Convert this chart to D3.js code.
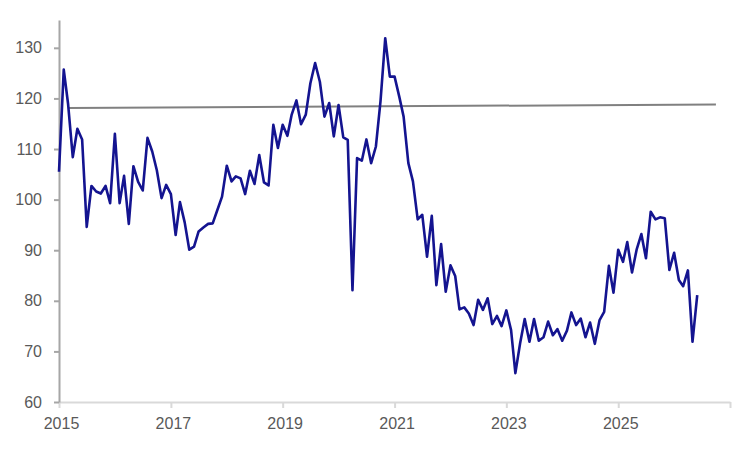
<!DOCTYPE html>
<html>
<head>
<meta charset="utf-8">
<script src="https://cdn.jsdelivr.net/npm/d3@7"></script>
<style>
  html, body { margin: 0; padding: 0; background: #ffffff; }
  svg { display: block; }
</style>
</head>
<body>
<svg id="chart" width="750" height="450"></svg>
<script>
// ---- data ----
const startMonth = "2015-01";
const values = [
  105.5, 125.7, 119.0, 108.4, 114.0, 111.9, 94.6, 102.7, 101.6, 101.2, 102.7, 99.3,
  113.0, 99.3, 104.7, 95.2, 106.6, 103.5, 101.8, 112.2, 109.5, 105.8, 100.3, 102.9,
  101.1, 93.0, 99.5, 95.5, 90.1, 90.7, 93.7, 94.5, 95.2, 95.3, 98.0, 100.6,
  106.7, 103.6, 104.6, 104.2, 101.1, 105.7, 103.1, 108.8, 103.4, 102.8, 114.8, 110.2,
  114.8, 112.6, 116.8, 119.6, 114.9, 116.8, 123.0, 127.0, 123.3, 116.4, 119.1, 112.5,
  118.7, 112.3, 111.8, 82.1, 108.2, 107.7, 111.9, 107.2, 110.5, 119.4, 131.9, 124.3,
  124.3, 120.3, 116.4, 107.2, 103.6, 96.1, 97.0, 88.7, 96.8, 83.1, 91.2, 81.8,
  87.0, 84.9, 78.3, 78.7, 77.5, 75.2, 80.2, 78.2, 80.5, 75.4, 77.0, 75.0,
  78.1, 74.2, 65.7, 71.6, 76.4, 71.9, 76.4, 72.1, 72.8, 75.9, 73.2, 74.4,
  72.1, 74.1, 77.7, 75.2, 76.5, 72.8, 75.7, 71.5, 76.2, 77.8, 86.9, 81.6,
  90.1, 87.7, 91.6, 85.6, 90.1, 93.2, 88.4, 97.6, 96.1, 96.5, 96.3, 86.1,
  89.5, 84.1, 82.9, 86.0, 71.9, 81.1
];
const trendDates = ["2015-03", "2026-10"];
const trendValues = [118.1, 118.8];
const yTicks = [60, 70, 80, 90, 100, 110, 120, 130];
const xTickYears = [2015, 2017, 2019, 2021, 2023, 2025, 2027];
const xTickLabels = ["2015", "2017", "2019", "2021", "2023", "2025", ""];

// ---- build ----
const parseMonth = d3.timeParse("%Y-%m");
const start = parseMonth(startMonth);
const series = values.map((v, i) => ({ date: d3.timeMonth.offset(start, i), value: v }));
const trend = trendDates.map((d, i) => ({ date: parseMonth(d), value: trendValues[i] }));

const svg = d3.select("#chart");
const x = d3.scaleTime()
  .domain([new Date(2015, 0, 1), new Date(2027, 0, 1)])
  .range([59, 730]);
const y = d3.scaleLinear().domain([60, 135.5]).range([402, 20]);

const textColor = "#595959";
const font = "'Liberation Sans', Arial, sans-serif";

// x axis
const xAxis = d3.axisBottom(x)
  .tickValues(xTickYears.map(yr => new Date(yr, 0, 1)))
  .tickFormat((d, i) => xTickLabels[i])
  .tickSizeInner(6).tickSizeOuter(0).tickPadding(10);
const gx = svg.append("g").attr("transform", "translate(0,402)").call(xAxis);
gx.select(".domain").attr("stroke", "#d9d9d9").attr("stroke-width", 2);
gx.selectAll(".tick line").attr("stroke", "#d9d9d9").attr("stroke-width", 2);
gx.selectAll(".tick text").attr("fill", textColor).attr("font-size", 16)
  .attr("font-family", font).attr("dx", 2);

// y axis
const yAxis = d3.axisLeft(y).tickValues(yTicks)
  .tickSizeInner(5).tickSizeOuter(0).tickPadding(12);
const gy = svg.append("g").attr("transform", "translate(59,0)").call(yAxis);
gy.select(".domain").attr("stroke", "#a6a6a6").attr("stroke-width", 2);
gy.selectAll(".tick line").attr("stroke", "#a6a6a6").attr("stroke-width", 2);
gy.selectAll(".tick text").attr("fill", textColor).attr("font-size", 16)
  .attr("font-family", font);

// trend line
svg.append("path").datum(trend)
  .attr("fill", "none").attr("stroke", "#808080").attr("stroke-width", 2)
  .attr("d", d3.line().x(d => x(d.date)).y(d => y(d.value)));

// main series
svg.append("path").datum(series)
  .attr("fill", "none").attr("stroke", "#141490").attr("stroke-width", 2.6)
  .attr("stroke-linejoin", "round")
  .attr("d", d3.line().x(d => x(d.date)).y(d => y(d.value)));
</script>
</body>
</html>
